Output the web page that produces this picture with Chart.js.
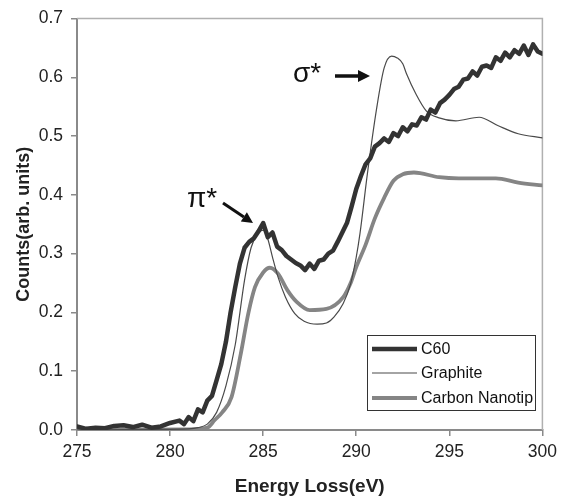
<!DOCTYPE html>
<html>
<head>
<meta charset="utf-8">
<script src="https://cdn.jsdelivr.net/npm/chart.js@4.4.1/dist/chart.umd.min.js"></script>
<style>
  html, body { margin: 0; padding: 0; background: #fff; }
  #wrap { width: 563px; height: 501px; }
</style>
</head>
<body>
<div id="wrap"><canvas id="c" width="563" height="501"></canvas></div>
<script>
// ---------- data ----------
const seriesNames = ['C60', 'Graphite', 'Carbon Nanotip'];

const c60Energy = [275,275.5,276,276.5,277,277.5,278,278.5,279,279.5,280,280.5,280.75,
  281,281.25,281.5,281.75,282,282.25,282.5,282.75,283,283.25,283.5,283.75,
  284,284.25,284.5,284.75,285,285.25,285.5,285.75,286,286.25,286.5,286.75,
  287,287.25,287.5,287.75,288,288.25,288.5,288.75,289,289.25,289.5,289.75,
  290,290.25,290.5,290.75,291,291.25,291.5,291.75,292,292.25,292.5,292.75,
  293,293.25,293.5,293.75,294,294.25,294.5,294.75,295,295.25,295.5,295.75,
  296,296.25,296.5,296.75,297,297.25,297.5,297.75,298,298.25,298.5,298.75,
  299,299.25,299.5,299.75,300];
const c60Counts = [0.006,0.002,0.004,0.003,0.007,0.008,0.005,0.009,0.004,0.006,0.012,0.016,0.010,
  0.022,0.015,0.035,0.030,0.050,0.058,0.085,0.112,0.150,0.200,0.243,0.283,
  0.310,0.320,0.326,0.338,0.352,0.328,0.336,0.312,0.306,0.296,0.290,0.284,
  0.280,0.272,0.283,0.274,0.288,0.290,0.300,0.305,0.320,0.336,0.352,0.380,
  0.410,0.432,0.452,0.462,0.482,0.488,0.496,0.490,0.505,0.500,0.515,0.508,
  0.520,0.518,0.532,0.528,0.545,0.540,0.556,0.562,0.570,0.580,0.584,0.596,
  0.598,0.610,0.603,0.618,0.620,0.616,0.634,0.628,0.642,0.634,0.646,0.640,
  0.654,0.638,0.656,0.644,0.640];

const graphiteEnergy = [275,279,281,281.5,282,282.5,283,283.5,284,284.35,284.7,285,285.25,285.5,
  285.8,286.2,286.7,287.2,287.9,288.4,288.8,289.3,289.7,290,290.2,290.6,291.1,291.5,
  291.9,292.2,292.5,292.7,293.2,293.76,294.45,295.35,296.6,297.6,298.7,300];
const graphiteCounts = [0.000,0.001,0.002,0.004,0.010,0.030,0.075,0.145,0.255,0.310,0.334,0.340,0.325,0.294,
  0.260,0.226,0.198,0.185,0.180,0.182,0.192,0.215,0.249,0.294,0.334,0.436,0.548,0.616,
  0.636,0.633,0.623,0.606,0.572,0.543,0.531,0.526,0.532,0.518,0.504,0.497];

const nanotipEnergy = [275,281,282,282.4,282.8,283.3,283.8,284.2,284.56,285,285.36,285.8,286.3,286.8,
  287.5,288.4,289.3,289.7,290,290.5,291,291.5,292,292.5,293.1,294.45,295.5,296.25,297.5,298.7,300];
const nanotipCounts = [0.000,0.001,0.004,0.017,0.030,0.056,0.130,0.198,0.243,0.268,0.276,0.266,0.238,0.218,
  0.204,0.206,0.226,0.250,0.277,0.315,0.360,0.395,0.424,0.435,0.438,0.430,0.428,0.428,0.428,0.421,0.416];

const xTickStep = 5;
const yTickStep = 0.1;

// ---------- styling ----------
const FONT = "'Liberation Sans', Arial, sans-serif";
const styles = [
  { color: '#333333', width: 4.5 },
  { color: '#4a4a4a', width: 1.2 },
  { color: '#858585', width: 3.8 }
];

function pts(xs, ys) { return xs.map((x, i) => ({ x: x, y: ys[i] })); }

const datasets = [
  { label: seriesNames[0], data: pts(c60Energy, c60Counts), tension: 0 },
  { label: seriesNames[1], data: pts(graphiteEnergy, graphiteCounts), cubicInterpolationMode: 'monotone' },
  { label: seriesNames[2], data: pts(nanotipEnergy, nanotipCounts), cubicInterpolationMode: 'monotone' }
].map((d, i) => Object.assign(d, {
  borderColor: styles[i].color,
  borderWidth: styles[i].width,
  pointRadius: 0,
  fill: false,
  borderJoinStyle: 'round',
  borderCapStyle: 'round'
}));

function arrow(ctx, x1, y1, x2, y2, lw, head, hw) {
  const ang = Math.atan2(y2 - y1, x2 - x1);
  const bx = x2 - head * Math.cos(ang), by = y2 - head * Math.sin(ang);
  ctx.save();
  ctx.strokeStyle = '#111'; ctx.fillStyle = '#111';
  ctx.lineWidth = lw;
  ctx.beginPath(); ctx.moveTo(x1, y1); ctx.lineTo(bx, by); ctx.stroke();
  ctx.beginPath();
  ctx.moveTo(x2, y2);
  ctx.lineTo(bx + hw * Math.sin(ang), by - hw * Math.cos(ang));
  ctx.lineTo(bx - hw * Math.sin(ang), by + hw * Math.cos(ang));
  ctx.closePath(); ctx.fill();
  ctx.restore();
}

const decorPlugin = {
  id: 'decor',
  beforeDatasetsDraw(chart) {
    const { ctx, chartArea: a } = chart;
    ctx.save();
    ctx.strokeStyle = '#b0b0b0';
    ctx.lineWidth = 1.5;
    ctx.beginPath();
    ctx.moveTo(a.left, a.top); ctx.lineTo(a.right, a.top); ctx.lineTo(a.right, a.bottom);
    ctx.stroke();
    ctx.restore();
  },
  afterDatasetsDraw(chart) {
    const { ctx } = chart;
    // annotations
    ctx.save();
    ctx.fillStyle = '#111';
    ctx.textBaseline = 'alphabetic';
    ctx.textAlign = 'left';
    ctx.font = '28px ' + FONT;
    ctx.fillText('π*', 187, 207);
    ctx.fillText('σ*', 293, 82);
    ctx.restore();
    arrow(ctx, 223, 203, 253, 223, 3, 11, 5.5);
    arrow(ctx, 335, 76, 370, 76, 3.5, 12, 6);

    // legend
    const lx = 367, ly = 335, lw = 168, lh = 75;
    ctx.save();
    ctx.fillStyle = '#fff';
    ctx.fillRect(lx, ly, lw, lh);
    ctx.strokeStyle = '#333';
    ctx.lineWidth = 1;
    ctx.strokeRect(lx + 0.5, ly + 0.5, lw, lh);
    const rows = [349, 373, 398];
    ctx.font = '16px ' + FONT;
    ctx.textBaseline = 'middle';
    ctx.textAlign = 'left';
    chart.data.datasets.forEach((d, i) => {
      ctx.strokeStyle = d.borderColor;
      ctx.lineWidth = d.borderWidth;
      ctx.beginPath();
      ctx.moveTo(372, rows[i]); ctx.lineTo(417, rows[i]);
      ctx.stroke();
      ctx.fillStyle = '#111';
      ctx.fillText(d.label, 421, rows[i] + 1);
    });
    ctx.restore();
  }
};

new Chart(document.getElementById('c'), {
  type: 'line',
  data: { datasets: datasets },
  plugins: [decorPlugin],
  options: {
    responsive: false,
    animation: false,
    layout: { padding: { top: 17, right: 16, left: 0, bottom: 0 } },
    plugins: { legend: { display: false }, tooltip: { enabled: false } },
    scales: {
      x: {
        type: 'linear',
        min: 275, max: 300,
        afterFit(s) { s.height = 71; },
        border: { display: true, color: '#8a8a8a', width: 2 },
        grid: { display: true, drawOnChartArea: false, drawTicks: true, tickLength: 6, color: '#8a8a8a', lineWidth: 1.5 },
        ticks: { stepSize: xTickStep, color: '#222', font: { family: FONT, size: 17.5 }, padding: 6,
                 callback: v => String(Math.round(v)) },
        title: { display: true, text: 'Energy Loss(eV)', color: '#222',
                 font: { family: FONT, size: 19, weight: 'bold' }, padding: { top: 0, bottom: 3 } }
      },
      y: {
        min: 0, max: 0.7,
        afterFit(s) { s.width = 77; },
        border: { display: true, color: '#8a8a8a', width: 2 },
        grid: { display: true, drawOnChartArea: false, drawTicks: true, tickLength: 6, color: '#8a8a8a', lineWidth: 1.5 },
        ticks: { stepSize: yTickStep, color: '#222', font: { family: FONT, size: 17.5 }, padding: 8,
                 callback: v => v.toFixed(1) },
        title: { display: true, text: 'Counts(arb. units)', color: '#222',
                 font: { family: FONT, size: 18, weight: 'bold' }, padding: { top: 13, bottom: 0 } }
      }
    }
  }
});
</script>
</body>
</html>
